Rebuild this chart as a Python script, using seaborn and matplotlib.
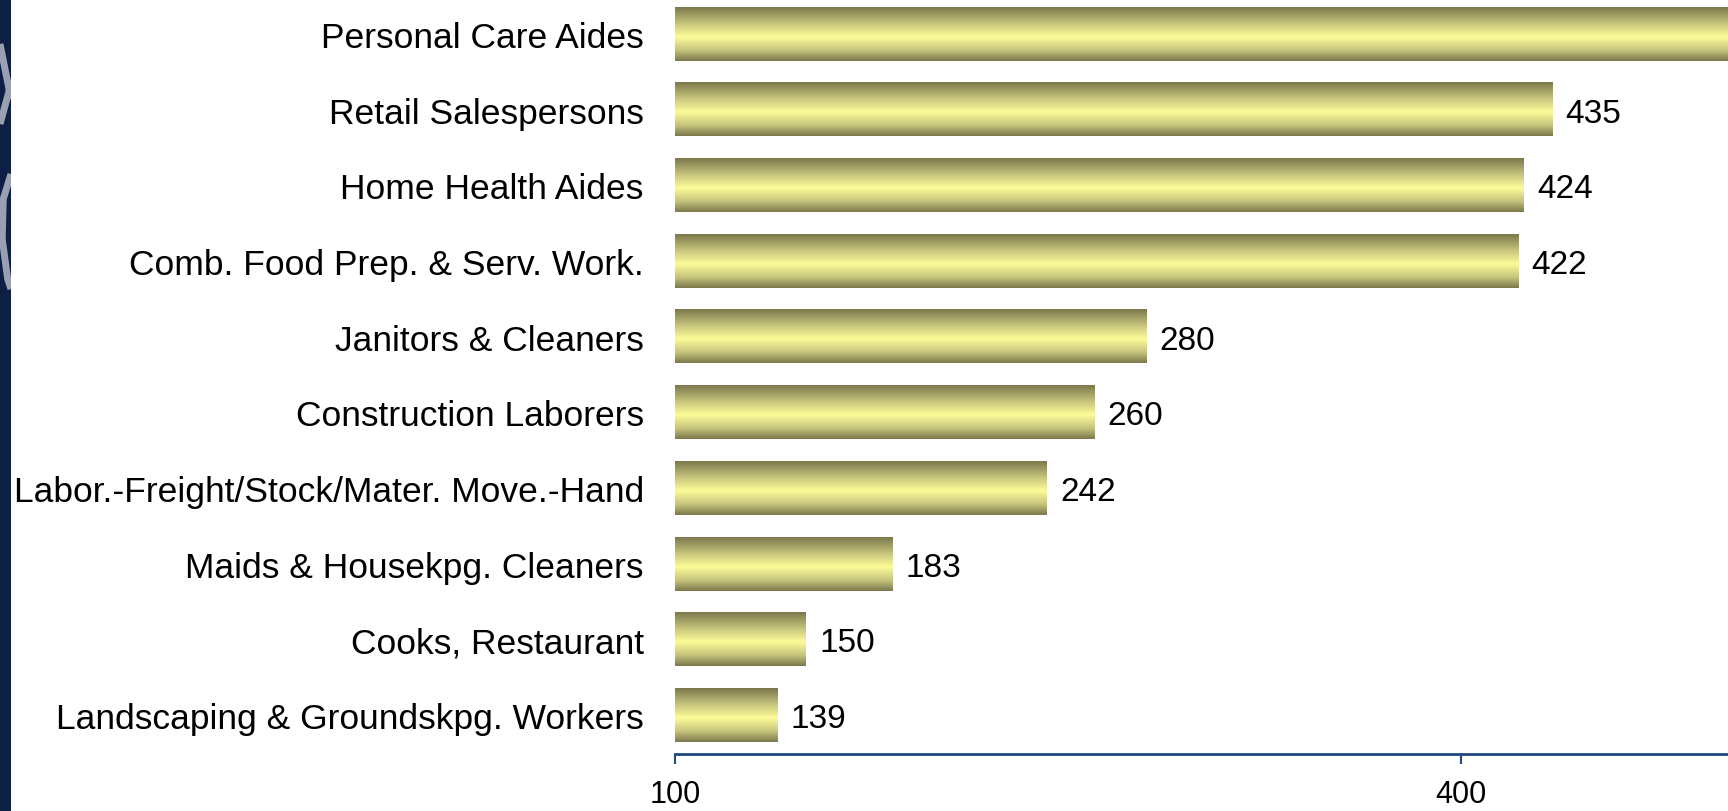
import numpy as np
import pandas as pd
import matplotlib.pyplot as plt
from matplotlib.colors import LinearSegmentedColormap
import seaborn as sns

sns.set_style("white")
plt.rcParams['font.family'] = ['Liberation Sans', 'DejaVu Sans']

occupations = ["Personal Care Aides", "Retail Salespersons", "Home Health Aides",
               "Comb. Food Prep. & Serv. Work.", "Janitors & Cleaners",
               "Construction Laborers", "Labor.-Freight/Stock/Mater. Move.-Hand",
               "Maids & Housekpg. Cleaners", "Cooks, Restaurant",
               "Landscaping & Groundskpg. Workers"]
growth = [581, 435, 424, 422, 280, 260, 242, 183, 150, 139]
x_ticks = [100, 400]

df = pd.DataFrame({'occupation': occupations, 'growth': growth})

fig = plt.figure(figsize=(17.28, 8.12), dpi=100)
ax = fig.add_axes([675 / 1728, 57 / 812, 1 - 675 / 1728, 755 / 812])

sns.barplot(data=df, x='growth', y='occupation', orient='h', width=0.71,
            color='#d8d68a', ax=ax)

# olive -> pale yellow -> olive vertical gradient on every bar
gold = LinearSegmentedColormap.from_list(
    'gold', [(0, '#7b774b'), (0.3, '#c6c47c'), (0.55, '#fdfc98'), (0.8, '#c6c47c'), (1, '#7b774b')])
grad = np.linspace(0, 1, 256).reshape(-1, 1)
for p in ax.patches:
    x0, y0, w, h = p.get_x(), p.get_y(), p.get_width(), p.get_height()
    ax.imshow(grad, extent=(x0, x0 + w, y0 + h, y0), aspect='auto', cmap=gold,
              zorder=3, interpolation='bilinear')
    p.set_visible(False)

xmax = 502
for i, v in enumerate(growth):
    if v + 5 < xmax:
        ax.text(v + 5, i, f"{v}", va='center_baseline', ha='left', fontsize=24, color='black')

ax.set_xlim(100, xmax)
ax.set_ylim(9.515, -0.46)
ax.set_xticks(x_ticks)
ax.set_xlabel('')
ax.set_ylabel('')

for s in ['top', 'right', 'left']:
    ax.spines[s].set_visible(False)
ax.spines['bottom'].set_color('#1f4a7c')
ax.spines['bottom'].set_linewidth(2)
ax.tick_params(axis='x', bottom=True, direction='out', length=7, width=1.5, color='#1f4a7c',
               labelsize=22, labelcolor='black', pad=11)
ax.tick_params(axis='y', left=False, labelsize=25.5, labelcolor='black', pad=19)

# navy strip with a bit of the logo on the left edge
strip = fig.add_axes([0, 0, 11 / 1728, 1])
strip.set_facecolor('#0d1f45')
strip.set_xlim(0, 1)
strip.set_ylim(812, 0)
band = dict(color='#98a0b2', lw=5, solid_capstyle='butt')
strip.plot([0, 1], [45, 100], **band)
strip.plot([0, 1], [125, 85], **band)
strip.plot([1, 0.3, 0.2, 0.7, 1], [175, 200, 240, 280, 290], **band)
strip.set_xticks([])
strip.set_yticks([])
for s in strip.spines.values():
    s.set_visible(False)

plt.savefig('out.png', dpi=100)
